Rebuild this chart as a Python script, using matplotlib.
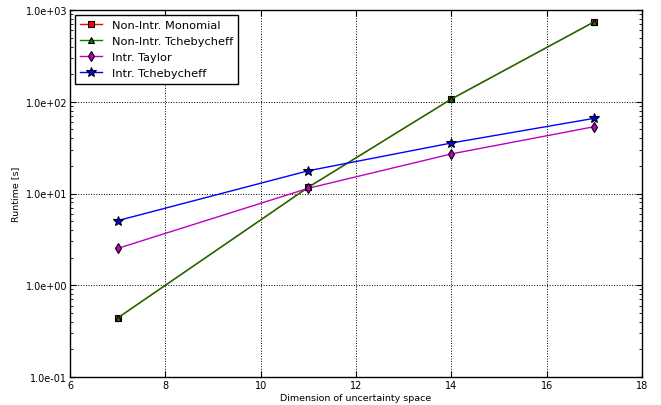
import matplotlib
matplotlib.use("Agg")
import matplotlib.pyplot as plt
from matplotlib.ticker import FuncFormatter, LogLocator

dims = [7, 11, 14, 17]
monomial = [0.44, 11.7, 107, 745]
tcheby_nonintr = [0.44, 11.7, 107, 745]
taylor = [2.52, 11.4, 27.0, 53.5]
tcheby_intr = [5.06, 17.7, 35.5, 66.0]

fig = plt.figure(figsize=(6.61, 4.06), dpi=100)
ax = fig.add_axes([70/661, 1-378/406, (642-70)/661, (378-11)/406])

ax.plot(dims, monomial, color='r', marker='s', ms=4.5, mec='k', mew=0.8, lw=1, label='Non-Intr. Monomial')
ax.plot(dims, tcheby_nonintr, color='g', marker='^', ms=4.5, mec='k', mew=0.8, lw=1, label='Non-Intr. Tchebycheff')
ax.plot(dims, taylor, color='m', marker='d', ms=5, mec='k', mew=0.8, lw=1, label='Intr. Taylor')
ax.plot(dims, tcheby_intr, color='b', marker='*', ms=7.5, mec='k', mew=0.8, lw=1, label='Intr. Tchebycheff')

ax.set_yscale('log')
ax.set_xlim(6, 18)
ax.set_ylim(0.1, 1000)
ax.set_xticks([6, 8, 10, 12, 14, 16, 18])
ax.yaxis.set_major_locator(LogLocator(base=10, numticks=10))
ax.yaxis.set_major_formatter(FuncFormatter(lambda v, p: '%.1e' % v))
ax.tick_params(which='both', direction='in', top=True, right=True, labelsize=7, pad=2)
ax.tick_params(which='major', length=4)
ax.tick_params(which='minor', length=2)
ax.grid(True, which='major', linestyle=':', color='k', linewidth=0.7)
ax.set_xlabel('Dimension of uncertainty space', fontsize=6.8, labelpad=2)
ax.set_ylabel('Runtime [s]', fontsize=6.8, labelpad=4)
for s in ax.spines.values():
    s.set_linewidth(1)
leg = ax.legend(loc='upper left', fontsize=8.2, fancybox=False, edgecolor='k', framealpha=1,
                numpoints=1, labelspacing=0.55, borderpad=0.45, handletextpad=0.8,
                borderaxespad=0.4)
leg.get_frame().set_linewidth(1)

fig.savefig('out.png', dpi=100)
